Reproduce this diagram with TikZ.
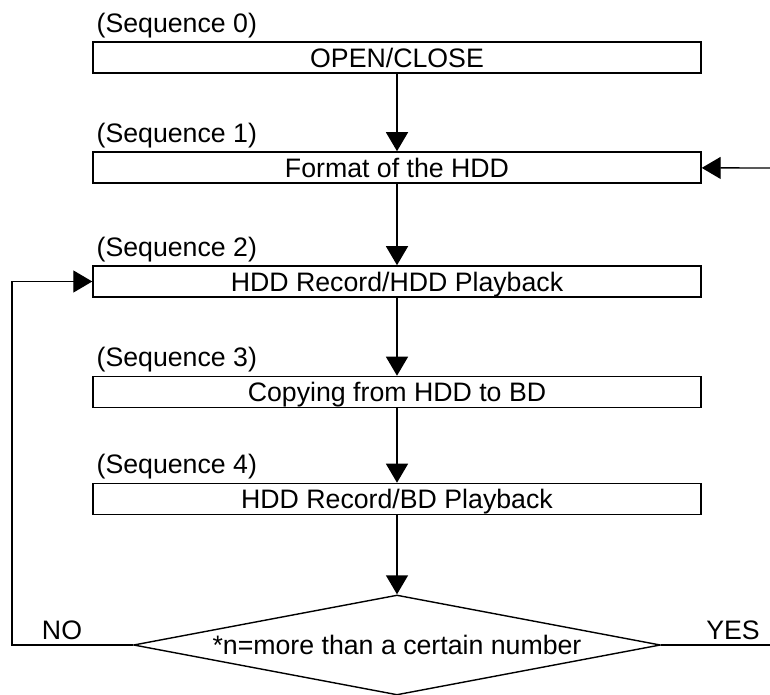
\documentclass[tikz,border=0pt]{standalone}
\usepackage{fontspec}
\setmainfont{Liberation Sans}
\usetikzlibrary{arrows.meta,positioning,shapes.geometric}

\begin{document}
\begin{tikzpicture}[
  x=0.02cm, y=-0.02cm,
  every node/.style={font=\fontsize{15.2}{17}\selectfont},
  line/.style={draw=black, line width=0.8pt},
  arr/.style={line, -{Triangle[length=10.8pt,width=12.5pt]}},
  seqbox/.style={draw=black, line width=0.9pt, minimum width=12.16cm, minimum height=0.62cm,
    inner sep=0pt, text height=10.9pt, text depth=0pt},
  seqlab/.style={anchor=base west, inner sep=0pt},
  decide/.style={draw=black, line width=0.8pt, diamond, shape aspect=5.3, inner sep=0pt,
    minimum width=10.54cm, minimum height=2cm, text height=10.9pt, text depth=0pt}]
  \useasboundingbox (0,0) rectangle (770,695);
  % the five sequences
  \node[seqbox] (s0) at (397,57.5)  {OPEN/CLOSE};
  \node[seqbox] (s1) at (397,167.5) {Format of the HDD};
  \node[seqbox] (s2) at (397,281.5) {HDD Record/HDD Playback};
  \node[seqbox] (s3) at (397,392)   {Copying from HDD to BD};
  \node[seqbox] (s4) at (397,499)   {HDD Record/BD Playback};
  \foreach \i in {0,...,4}
    \node[seqlab] (l\i) at ([xshift=0.08cm, yshift=0.18cm] s\i.north west) {(Sequence \i)};
  % decision
  \node[decide] (dec) at (397,645) {*n=more than a certain number};
  \node[anchor=base, inner sep=0pt] (no)  at (62,639)  {NO};
  \node[anchor=base, inner sep=0pt] (yes) at (733,639) {YES};
  \coordinate (yesend) at (770,645);
  \coordinate (fmtin)  at (770,168);
  % edges
  \foreach \a/\b in {s0/s1, s1/s2, s2/s3, s3/s4}
    \draw[arr] (\a) -- (\b);
  \draw[arr] (s4) -- (dec.north);
  \draw[arr] (dec.west) -- ++(-121,0) |- (s2);
  \draw[line] (dec.east) -- (yesend);
  \draw[arr] (fmtin) -- (s1);
\end{tikzpicture}
\end{document}
